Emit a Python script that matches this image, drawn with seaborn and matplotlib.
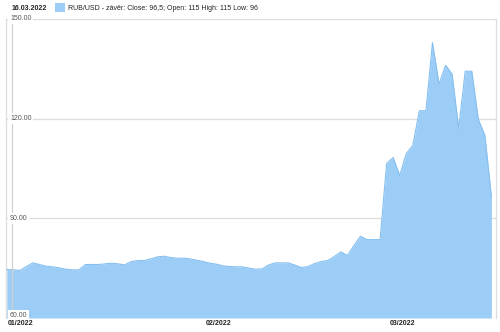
import matplotlib
matplotlib.use("Agg")
import matplotlib.pyplot as plt
import matplotlib.dates as mdates
import matplotlib.transforms as mtransforms
from matplotlib.patches import Rectangle
import seaborn as sns
import pandas as pd
import numpy as np

# ---- data ----
start_date = "2022-01-01"
rub_usd = [74.6, 74.5, 74.3, 75.5, 76.6, 76.1, 75.6, 75.4, 75.1, 74.7,
           74.5, 74.5, 76.1, 76.1, 76.1, 76.3, 76.5, 76.3, 76.0, 77.0,
           77.3, 77.3, 77.8, 78.4, 78.6, 78.2, 78.0, 78.0, 77.8, 77.4,
           77.0, 76.5, 76.2, 75.7, 75.5, 75.4, 75.4, 75.0, 74.7, 74.8,
           76.0, 76.6, 76.6, 76.6, 75.9, 75.2, 75.5, 76.4, 77.0, 77.3,
           78.5, 79.9, 78.8, 81.8, 84.6, 83.6, 83.6, 83.6, 106.5, 108.3,
           102.9, 109.5, 112.0, 122.4, 122.4, 142.9, 130.4, 136.1, 133.4, 117.0,
           134.3, 134.3, 119.8, 115.0, 96.5]
y_ticks = [60, 90, 120, 150]
y_tick_labels = ["60.00", "90.00", "120.00", "150.00"]
x_tick_dates = ["2022-01-01", "2022-02-01", "2022-03-01"]
x_tick_labels = ["01/2022", "02/2022", "03/2022"]
date_title = "16.03.2022"
legend_text = "RUB/USD - závěr: Close: 96,5; Open: 115 High: 115 Low: 96"

dates = pd.date_range(start_date, periods=len(rub_usd), freq="D")
df = pd.DataFrame({"date": dates, "value": rub_usd})

sns.set_style("white")
plt.rcParams["font.family"] = ["Liberation Sans", "DejaVu Sans"]

fill_c = "#9ccdf6"
line_c = "#86c0f0"

fig = plt.figure(figsize=(5.0, 3.32), dpi=100)
ax = fig.add_axes([6/500, 14/332, 490/500, 299/332])

ax.fill_between(df["date"], df["value"], 60, color=fill_c, lw=0, zorder=2)
sns.lineplot(data=df, x="date", y="value", ax=ax, color=line_c, lw=0.8, zorder=3)

x0 = mdates.date2num(dates[0])
ax.set_xlim(x0 - 0.12, x0 + 74.7)
ax.set_ylim(60, 150)

ax.set_yticks(y_ticks)
ax.set_yticklabels([])
ax.tick_params(axis="both", length=0)
ax.grid(axis="y", color="#dddddd", lw=0.9, zorder=1)
ax.grid(axis="x", visible=False)
ax.set_xlabel("")
ax.set_ylabel("")

# vertical guide line near left
ax.axvline(x0 + 0.8, color="#d0d0d0", lw=0.9, zorder=4)

for s in ["top", "bottom"]:
    ax.spines[s].set_visible(False)
for s in ["left", "right"]:
    ax.spines[s].set_color("#dddddd")
    ax.spines[s].set_linewidth(0.9)

# y labels inside with white box
ytrans = mtransforms.blended_transform_factory(ax.transAxes, ax.transData)
for v, lab in zip(y_ticks, y_tick_labels):
    yy = v + 0.9 if v == 60 else v
    ax.text(4/490, yy, lab, transform=ytrans, ha="left", va="center",
            fontsize=5, color="#555555", zorder=6,
            bbox=dict(boxstyle="square,pad=0.25", fc="white", ec="none"))

# x labels
ax.set_xticks([mdates.date2num(pd.Timestamp(d)) for d in x_tick_dates])
ax.set_xticklabels(x_tick_labels, fontsize=5, fontweight="bold", color="#222222")
ax.tick_params(axis="x", pad=1.5)
for i, t in enumerate(ax.get_xticklabels()):
    dx = 0.5/72 if i == 0 else 6.5/72
    if i == 0:
        t.set_ha("left")
    t.set_transform(t.get_transform() + mtransforms.ScaledTranslation(dx, 0, fig.dpi_scale_trans))

# header
fig.text(12/500, 1 - 8/332, date_title, fontsize=5, fontweight="bold",
         color="#222222", ha="left", va="center")
fig.patches.append(Rectangle((55/500, 1 - 12/332), 10/500, 9/332,
                             transform=fig.transFigure, fc=fill_c, ec="none"))
fig.text(68/500, 1 - 8/332, legend_text, fontsize=5, color="#222222",
         ha="left", va="center")

fig.savefig("out.png", dpi=100)
